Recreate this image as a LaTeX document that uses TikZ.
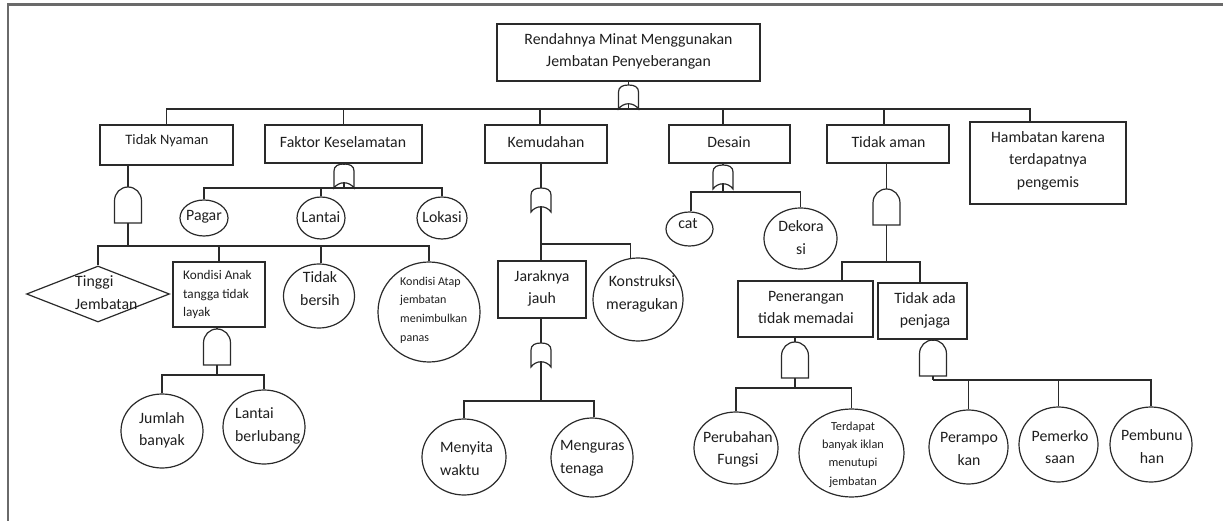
\documentclass[tikz,border=0pt]{standalone}
\usepackage{fontspec}
\setmainfont{Carlito}
\usetikzlibrary{shapes.geometric}
\definecolor{linec}{HTML}{2A2A2A}
\definecolor{framec}{HTML}{6A6A6A}
\definecolor{textc}{HTML}{1E1E1E}
\tikzset{
  wire/.style={draw=linec, line width=1.2pt},
  gatestyle/.style={draw=linec, line width=1.2pt},
  boxnode/.style={draw=linec, line width=1.2pt, rectangle, inner sep=0pt},
  ellnode/.style={draw=linec, line width=1.2pt, ellipse, inner sep=0pt},
  dianode/.style={draw=linec, line width=1.2pt, diamond, inner sep=0pt},
  txt/.style={text=textc, inner sep=0pt, align=center, font={\fontsize{15.8}{22.5}\selectfont}},
  txtleft/.style={txt, align=left, anchor=west},
  andgate/.pic={
    \draw[gatestyle] (-13.5,36) -- (-13.5,14) .. controls (-13.5,6) and (-7.5,0) .. (0,0)
       .. controls (7.5,0) and (13.5,6) .. (13.5,14) -- (13.5,36) -- cycle;
    \coordinate (-in) at (0,0);
    \coordinate (-out) at (0,36);
  },
  orgate/.pic={
    \draw[gatestyle] (-10,24) -- (-10,7) .. controls (-10,2) and (-6,0) .. (0,0)
       .. controls (6,0) and (10,2) .. (10,7) -- (10,24) .. controls (5,17) and (-5,17) .. (-10,24) -- cycle;
    \draw[gatestyle] (0,18.75) -- (0,24);
    \coordinate (-in) at (0,0);
    \coordinate (-out) at (0,24);
  }
}
\begin{document}
\begin{tikzpicture}[x=1pt,y=-1pt]
\useasboundingbox (0,0) rectangle (1223,521);
% frame
\draw[framec, line width=2.4pt] (8,521) -- (8,4.5) -- (1223,4.5);

% ---------- boxes ----------
\node[boxnode, minimum width=263pt, minimum height=57pt] (top) at (628.5,52.5) {};
\node[boxnode, minimum width=133pt, minimum height=40pt] (tn) at (166.5,145) {};
\node[boxnode, minimum width=157pt, minimum height=38pt] (fk) at (343.5,144) {};
\node[boxnode, minimum width=122pt, minimum height=38pt] (km) at (546,144) {};
\node[boxnode, minimum width=121pt, minimum height=38pt] (ds) at (729.5,144) {};
\node[boxnode, minimum width=122pt, minimum height=38pt] (ta) at (888,144) {};
\node[boxnode, minimum width=156pt, minimum height=82pt] (hb) at (1048,163) {};
\node[boxnode, minimum width=92pt, minimum height=65pt] (ka) at (219,294.5) {};
\node[boxnode, minimum width=88pt, minimum height=57pt] (jj) at (542,289.5) {};
\node[boxnode, minimum width=135pt, minimum height=56pt] (pn) at (805.5,309) {};
\node[boxnode, minimum width=89pt, minimum height=56pt] (tp) at (922.5,311) {};

% ---------- diamond ----------
\node[dianode, minimum width=143pt, minimum height=56pt] (tj) at (98,294) {};

% ---------- ellipses ----------
\node[ellnode, minimum width=48pt, minimum height=36pt] (pg) at (204,218) {};
\node[ellnode, minimum width=48pt, minimum height=42pt] (lt) at (321,218) {};
\node[ellnode, minimum width=50pt, minimum height=42pt] (lk) at (442,218) {};
\node[ellnode, minimum width=71pt, minimum height=64pt] (tb) at (319,296) {};
\node[ellnode, minimum width=102pt, minimum height=100pt] (kat) at (429,312) {};
\node[ellnode, minimum width=82pt, minimum height=74pt] (jb) at (162,431) {};
\node[ellnode, minimum width=82pt, minimum height=74pt] (lb) at (264,427) {};
\node[ellnode, minimum width=90pt, minimum height=83pt] (ks) at (638,299.5) {};
\node[ellnode, minimum width=84pt, minimum height=76pt] (mw) at (464,457) {};
\node[ellnode, minimum width=82pt, minimum height=79pt] (mt) at (592,457.5) {};
\node[ellnode, minimum width=47pt, minimum height=34pt] (ct) at (689.5,229) {};
\node[ellnode, minimum width=73pt, minimum height=61pt] (dk) at (800.5,238.5) {};
\node[ellnode, minimum width=84pt, minimum height=72pt] (pf) at (736,448) {};
\node[ellnode, minimum width=105pt, minimum height=88pt] (ti) at (851.5,453) {};
\node[ellnode, minimum width=79pt, minimum height=74pt] (pr) at (968.5,447) {};
\node[ellnode, minimum width=79pt, minimum height=75pt] (pm) at (1058.5,444.5) {};
\node[ellnode, minimum width=82pt, minimum height=75pt] (pb) at (1151,444.5) {};

% ---------- gates ----------
\pic (g0) at (628.5,85) {orgate};
\pic (gfk) at (344,164) {orgate};
\pic (gtn) at (128,187) {andgate};
\pic (gka) at (217,329) {andgate};
\pic (gkm) at (541,188) {orgate};
\pic (gjj) at (541,343) {orgate};
\pic (gds) at (723,165) {orgate};
\pic (gta) at (886.5,189) {andgate};
\pic (gpn) at (795,342) {andgate};
\pic (gtp) at (933,340) {andgate};

% ---------- bus junctions ----------
\coordinate (btn) at (128,246);
\coordinate (bka) at (217,375);
\coordinate (bkm) at (541,244);
\coordinate (bjj) at (541,401);
\coordinate (bds) at (723,192);
\coordinate (bta) at (886.5,262);
\coordinate (bpn) at (795,388);
\coordinate (btp) at (933,380);

% ---------- connectors ----------
% top level
\draw[wire] (top.south -| g0-in) -- (g0-in);
\draw[wire] (tn.north) |- (g0-out);
\draw[wire] (fk.north) |- (g0-out);
\draw[wire] ([xshift=-6pt]km.north) |- (g0-out);
\draw[wire] ([xshift=-6.5pt]ds.north) |- (g0-out);
\draw[wire] ([xshift=-4pt]ta.north) |- (g0-out);
\draw[wire] ([xshift=-18pt]hb.north) |- (g0-out);
% Faktor Keselamatan
\draw[wire] (fk.south -| gfk-in) -- (gfk-in);
\draw[wire] (pg.north) |- (gfk-out);
\draw[wire] (lt.north) |- (gfk-out);
\draw[wire] (lk.north) |- (gfk-out);
% Tidak Nyaman
\draw[wire] (tn.south -| gtn-in) -- (gtn-in);
\draw[wire] (gtn-out) -- (btn);
\draw[wire] (tj.north) |- (btn);
\draw[wire] (ka.north) |- (btn);
\draw[wire] ([xshift=2pt]tb.north) |- (btn);
\draw[wire] (kat.north) |- (btn);
% Kondisi Anak tangga
\draw[wire] (ka.south -| gka-in) -- (gka-in);
\draw[wire] (gka-out) -- (bka);
\draw[wire] (jb.north) |- (bka);
\draw[wire] (lb.north) |- (bka);
% Kemudahan
\draw[wire] (km.south -| gkm-in) -- (gkm-in);
\draw[wire] (gkm-out) -- (jj.north -| gkm-out);
\draw[wire] (ks.100) |- (bkm);
% Jaraknya jauh
\draw[wire] (jj.south -| gjj-in) -- (gjj-in);
\draw[wire] (gjj-out) -- (bjj);
\draw[wire] (mw.north) |- (bjj);
\draw[wire] ([xshift=2pt]mt.north) |- (bjj);
% Desain
\draw[wire] (ds.south -| gds-in) -- (gds-in);
\draw[wire] (gds-out) -- (bds);
\draw[wire] ([xshift=1.5pt]ct.north) |- (bds);
\draw[wire] (dk.north) |- (bds);
% Tidak aman
\draw[wire] (ta.south -| gta-in) -- (gta-in);
\draw[wire] (gta-out) -- (bta);
\draw[wire] ([xshift=36.5pt]pn.north) |- (bta);
\draw[wire] ([xshift=-2.5pt]tp.north) |- (bta);
% Penerangan
\draw[wire] (pn.south -| gpn-in) -- (gpn-in);
\draw[wire] (gpn-out) -- (bpn);
\draw[wire] (pf.north) |- (bpn);
\draw[wire] (ti.north) |- (bpn);
% Tidak ada penjaga
\draw[wire] (tp.south -| gtp-in) -- (gtp-in);
\draw[wire] (gtp-out) -- (btp);
\draw[wire] (pr.north) |- (btp);
\draw[wire] (pm.north) |- (btp);
\draw[wire] (pb.north) |- (btp);

% ---------- texts ----------
\node[txt] (t-top) at (628.5,51.5) {Rendahnya Minat Menggunakan\\Jembatan Penyeberangan};
\node[txt, font={\fontsize{14.4}{20}\selectfont}] (t-tn) at (167,141) {Tidak Nyaman};
\node[txt] (t-fk) at (343,142) {Faktor Keselamatan};
\node[txt] (t-km) at (546,142) {Kemudahan};
\node[txt] (t-ds) at (729,142) {Desain};
\node[txt] (t-ta) at (888.5,142) {Tidak aman};
\node[txt] (t-hb) at (1048,160.5) {Hambatan karena\\terdapatnya\\pengemis};
\node[txt] (t-pg) at (204,217) {Pagar};
\node[txt] (t-lt) at (321,217) {Lantai};
\node[txt] (t-lk) at (442,217) {Lokasi};
\node[txtleft] (t-tj) at (75,292.5) {Tinggi\\Jembatan};
\node[txtleft, font={\fontsize{13.2}{18.5}\selectfont}] (t-ka) at (183,294.5) {Kondisi Anak\\tangga tidak\\layak};
\node[txt] (t-tb) at (320,288.5) {Tidak\\bersih};
\node[txtleft, font={\fontsize{12}{18.7}\selectfont}] (t-kat) at (400,310) {Kondisi Atap\\jembatan\\menimbulkan\\panas};
\node[txtleft] (t-jb) at (139,430.5) {Jumlah\\banyak};
\node[txtleft] (t-lb) at (235,426) {Lantai\\berlubang};
\node[txt] (t-jj) at (542,288.5) {Jaraknya\\jauh};
\node[txt] (t-ks) at (642,294) {Konstruksi\\meragukan};
\node[txtleft] (t-mw) at (440,458.5) {Menyita\\waktu};
\node[txtleft] (t-mt) at (560,458.5) {Menguras\\tenaga};
\node[txt] (t-ct) at (688,224) {cat};
\node[txt] (t-dk) at (801,237.5) {Dekora\\si};
\node[txt] (t-pn) at (806,307.5) {Penerangan\\tidak memadai};
\node[txt] (t-tp) at (925,310.5) {Tidak ada\\penjaga};
\node[txt] (t-pf) at (738,449.5) {Perubahan\\Fungsi};
\node[txt, font={\fontsize{12.3}{18.3}\selectfont}] (t-ti) at (853,454.5) {Terdapat\\banyak iklan\\menutupi\\jembatan};
\node[txt] (t-pr) at (969,449) {Perampo\\kan};
\node[txt] (t-pm) at (1060,447) {Pemerko\\saan};
\node[txt] (t-pb) at (1152,446.5) {Pembunu\\han};
\end{tikzpicture}
\end{document}
